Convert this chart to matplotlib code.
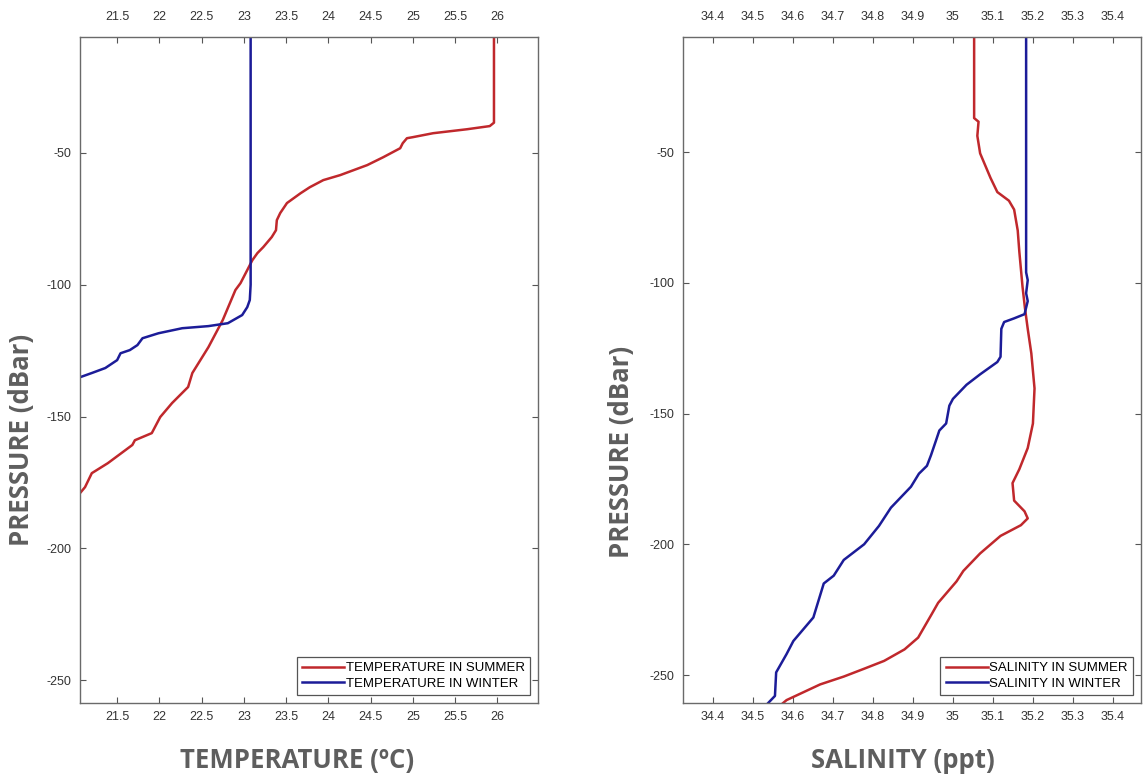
import matplotlib
matplotlib.use("Agg")
import matplotlib.pyplot as plt
from matplotlib.ticker import FuncFormatter

plt.rcParams["axes.unicode_minus"] = False

# temperature profiles (degC, dBar)
temp_summer_x = [25.96, 25.96, 25.91, 25.64, 25.24, 25.00, 24.93, 24.88, 24.85, 24.65,
                 24.46, 24.14, 23.94, 23.78, 23.67, 23.51, 23.43, 23.39, 23.38, 23.33,
                 23.23, 23.16, 23.10, 22.96, 22.90, 22.75, 22.58, 22.39, 22.34, 22.15,
                 22.01, 21.91, 21.71, 21.68, 21.39, 21.20, 21.12, 21.06]
temp_summer_p = [-6, -38.5, -39.8, -41.0, -42.5, -44.0, -44.4, -46.3, -48.2, -51.6,
                 -54.6, -58.4, -60.3, -63.0, -65.3, -69.0, -72.8, -75.5, -79.3, -81.9,
                 -85.7, -88.0, -90.7, -99.4, -102.0, -113.4, -123.7, -133.5, -138.8, -144.9,
                 -150.2, -156.3, -159.0, -160.8, -167.7, -171.5, -176.8, -179.1]

temp_winter_x = [23.08, 23.08, 23.07, 23.04, 22.98, 22.81, 22.58, 22.27, 21.99, 21.80,
                 21.74, 21.65, 21.54, 21.50, 21.36, 21.20, 21.06]
temp_winter_p = [-6, -100, -105.8, -108.5, -111.5, -114.6, -115.7, -116.5, -118.4, -120.3,
                 -122.9, -124.8, -126.0, -128.6, -131.6, -133.5, -135.1]

# salinity profiles (ppt, dBar)
sal_summer_x = [35.053, 35.053, 35.064, 35.061, 35.068, 35.094, 35.111, 35.140, 35.153, 35.162,
                35.166, 35.174, 35.180, 35.187, 35.196, 35.204, 35.200, 35.187, 35.166, 35.149,
                35.153, 35.179, 35.187, 35.170, 35.119, 35.068, 35.026, 35.009, 34.963, 34.947,
                34.913, 34.879, 34.828, 34.778, 34.727, 34.668, 34.626, 34.584, 34.567]
sal_summer_p = [-6, -37, -38.4, -43.8, -50.5, -59.9, -65.3, -68.6, -72.0, -80.0,
                -88.1, -101.5, -109.6, -117.6, -127.0, -140.4, -153.8, -163.2, -171.3, -176.6,
                -183.3, -187.4, -190.1, -192.7, -196.8, -203.5, -210.2, -214.2, -222.4, -226.7,
                -235.7, -240.2, -244.6, -247.6, -250.6, -253.6, -256.6, -259.6, -261.8]

sal_winter_x = [35.183, 35.183, 35.183, 35.187, 35.183, 35.187, 35.179, 35.153, 35.128, 35.121,
                35.119, 35.111, 35.068, 35.034, 35.000, 34.991, 34.983, 34.966, 34.957, 34.945,
                34.935, 34.915, 34.895, 34.870, 34.845, 34.815, 34.778, 34.727, 34.702, 34.677,
                34.651, 34.601, 34.584, 34.558, 34.555, 34.530]
sal_winter_p = [-6, -50, -96, -99, -104, -107, -112, -113.6, -115, -117.6,
                -128.3, -130.3, -135, -139, -144.4, -147, -153.8, -156.5, -160.6, -166,
                -170, -173, -178, -182, -186, -193, -200, -206, -212, -215,
                -228, -237, -242, -249, -258, -262]

temp_ticks = [21.5, 22, 22.5, 23, 23.5, 24, 24.5, 25, 25.5, 26]
sal_ticks = [34.4, 34.5, 34.6, 34.7, 34.8, 34.9, 35.0, 35.1, 35.2, 35.3, 35.4]
p_ticks = [-250, -200, -150, -100, -50]

RED = "#c0282c"
BLUE = "#1c1c98"
TICKFONT = ["Liberation Sans Narrow", "DejaVu Sans Condensed", "Liberation Sans"]
LABELCOL = "#5e5e5e"

fig = plt.figure(figsize=(11.44, 7.76), dpi=100)
ax1 = fig.add_axes([0.0699, 0.0941, 0.4003, 0.8582])
ax2 = fig.add_axes([0.5970, 0.0941, 0.4003, 0.8582])

ax1.plot(temp_summer_x, temp_summer_p, color=RED, lw=1.8, label="TEMPERATURE IN SUMMER")
ax1.plot(temp_winter_x, temp_winter_p, color=BLUE, lw=1.8, label="TEMPERATURE IN WINTER")
ax2.plot(sal_summer_x, sal_summer_p, color=RED, lw=1.8, label="SALINITY IN SUMMER")
ax2.plot(sal_winter_x, sal_winter_p, color=BLUE, lw=1.8, label="SALINITY IN WINTER")

ax1.set_xlim(21.06, 26.48)
ax1.set_ylim(-258.7, -6)
ax2.set_xlim(34.325, 35.47)
ax2.set_ylim(-260.7, -6)

fmt = FuncFormatter(lambda v, pos: "%g" % round(v, 2))
for ax, ticks in ((ax1, temp_ticks), (ax2, sal_ticks)):
    ax.set_xticks(ticks)
    ax.set_yticks(p_ticks)
    ax.xaxis.set_major_formatter(fmt)
    ax.tick_params(direction="in", top=True, right=True, labeltop=False,
                   labelbottom=True, length=4, width=0.8, color="#555555",
                   labelsize=9, labelcolor="#333333", pad=6)
    # top labels sit a bit further from the frame
    sec = ax.secondary_xaxis("top")
    sec.set_xticks(ticks)
    sec.xaxis.set_major_formatter(fmt)
    sec.tick_params(direction="in", length=0, labelsize=9, labelcolor="#333333", pad=10)
    sec.spines["top"].set_visible(False)
    for lab in ax.get_xticklabels() + ax.get_yticklabels() + sec.get_xticklabels():
        lab.set_family(TICKFONT)
    for s in ax.spines.values():
        s.set_color("#6a6a6a")
        s.set_linewidth(1.0)
    leg = ax.legend(loc="lower right", fancybox=False, framealpha=1,
                    edgecolor="#555555", handlelength=3.2, handletextpad=0.1,
                    borderpad=0.4, labelspacing=0.25, borderaxespad=0.6,
                    prop={"family": TICKFONT, "size": 9.5})
    leg.get_frame().set_linewidth(0.9)

fig.text(0.2596, 0.0206, "TEMPERATURE (ºC)", ha="center", va="center",
         family="Open Sans", weight="bold", size=18.5, color=LABELCOL)
fig.text(0.7893, 0.0206, "SALINITY (ppt)", ha="center", va="center",
         family="Open Sans", weight="bold", size=18.5, color=LABELCOL)
fig.text(0.0192, 0.433, "PRESSURE (dBar)", ha="center", va="center", rotation=90,
         family="Open Sans", weight="bold", size=18.5, color=LABELCOL)
fig.text(0.5437, 0.4175, "PRESSURE (dBar)", ha="center", va="center", rotation=90,
         family="Open Sans", weight="bold", size=18.5, color=LABELCOL)

fig.savefig("out.png", dpi=100)
